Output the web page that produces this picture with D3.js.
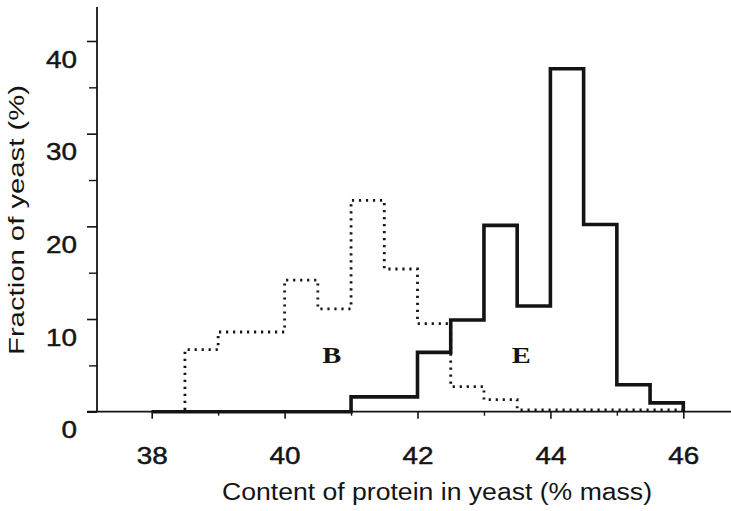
<!DOCTYPE html>
<html>
<head>
<meta charset="utf-8">
<script src="https://cdn.jsdelivr.net/npm/d3@7"></script>
<style>
  html, body { margin: 0; padding: 0; background: #fff; }
  svg { display: block; }
</style>
</head>
<body>
<svg id="chart" width="731" height="511"></svg>
<script>
// ---- data ----
const binStarts = [38, 38.5, 39, 39.5, 40, 40.5, 41, 41.5, 42, 42.5, 43, 43.5, 44, 44.5, 45, 45.5];
const binEnd = 46;
const seriesB = [0, 6.7, 8.6, 8.6, 14.2, 11.1, 22.8, 15.4, 9.5, 2.7, 1.3, 0.2, 0.2, 0.2, 0.2, 0.2];
const seriesE = [0, 0, 0, 0, 0, 0, 1.6, 1.6, 6.4, 9.9, 20.1, 11.4, 37.0, 20.2, 2.9, 0.95];
const xMajorTicks = [38, 40, 42, 44, 46];
const xMinorTicks = [39, 41, 43, 45];
const yMajorTicks = [0, 10, 20, 30, 40];
const yMinorTicks = [5, 15, 25, 35];
const seriesLabels = ["B", "E"];
const labelX = [40.71, 43.56];
const labelY = [5.25, 5.25];
const xTitle = "Content of protein in yeast (% mass)";
const yTitle = "Fraction of yeast (%)";

// ---- drawing ----
const svg = d3.select("#chart");
const ink = "#141414";
const sans = "'Liberation Sans', Arial, Helvetica, sans-serif";
const serif = "'Liberation Serif', 'Times New Roman', serif";

const x = d3.scaleLinear().domain([38, 46]).range([151.7, 683.3]);
const y = d3.scaleLinear().domain([0, 40]).range([411.7, 41]);

function stepPoints(vals) {
  const pts = binStarts.map((s, i) => [s, vals[i]]);
  pts.push([binEnd, vals[vals.length - 1]]);
  pts.push([binEnd, 0]);
  return pts;
}
const line = d3.line().x(d => x(d[0])).y(d => y(d[1])).curve(d3.curveStepAfter);

// axis lines
const axisX0 = 97;
svg.append("line")
  .attr("x1", 87).attr("x2", 731).attr("y1", y(0)).attr("y2", y(0))
  .attr("stroke", ink).attr("stroke-width", 1.8);
svg.append("line")
  .attr("x1", axisX0).attr("x2", axisX0).attr("y1", 7).attr("y2", y(0))
  .attr("stroke", ink).attr("stroke-width", 1.8);

// B dotted
svg.append("path")
  .attr("d", line(stepPoints(seriesB)))
  .attr("fill", "none")
  .attr("stroke", "#151515")
  .attr("stroke-width", 2.8)
  .attr("stroke-dasharray", "2.2,4.8")
  .attr("stroke-linecap", "butt");

// E solid
svg.append("path")
  .attr("d", line(stepPoints(seriesE)))
  .attr("fill", "none")
  .attr("stroke", ink)
  .attr("stroke-width", 3.6)
  .attr("stroke-linejoin", "miter");

function styleNum(sel) {
  sel.attr("fill", ink)
    .attr("stroke", ink).attr("stroke-width", 0.45)
    .style("font-family", sans).style("font-size", "23px")
    .attr("textLength", d => String(d).length * 15.5)
    .attr("lengthAdjust", "spacingAndGlyphs");
}

// x axis major
const gxM = svg.append("g")
  .attr("transform", `translate(0,${y(0)})`)
  .call(d3.axisBottom(x).tickValues(xMajorTicks).tickSize(7).tickPadding(29).tickFormat(d3.format("d")));
gxM.select(".domain").remove();
gxM.selectAll(".tick line").attr("stroke", ink).attr("stroke-width", 1.6);
styleNum(gxM.selectAll(".tick text"));

// x axis minor
const gxm = svg.append("g")
  .attr("transform", `translate(0,${y(0)})`)
  .call(d3.axisBottom(x).tickValues(xMinorTicks).tickSize(4).tickFormat(""));
gxm.select(".domain").remove();
gxm.selectAll(".tick line").attr("stroke", ink).attr("stroke-width", 1.4);

// y axis major
const gyM = svg.append("g")
  .attr("transform", `translate(${axisX0},0)`)
  .call(d3.axisLeft(y).tickValues(yMajorTicks).tickSize(10).tickPadding(10).tickFormat(d3.format("d")));
gyM.select(".domain").remove();
gyM.selectAll(".tick line").attr("stroke", ink).attr("stroke-width", 1.6);
styleNum(gyM.selectAll(".tick text").attr("dy", 26));

// y axis minor
const gym = svg.append("g")
  .attr("transform", `translate(${axisX0},0)`)
  .call(d3.axisLeft(y).tickValues(yMinorTicks).tickSize(8).tickFormat(""));
gym.select(".domain").remove();
gym.selectAll(".tick line").attr("stroke", ink).attr("stroke-width", 1.4);

// series labels
svg.selectAll(".serlab")
  .data(seriesLabels)
  .join("text")
  .attr("class", "serlab")
  .attr("x", (d, i) => x(labelX[i]))
  .attr("y", (d, i) => y(labelY[i]))
  .attr("text-anchor", "middle")
  .attr("fill", ink)
  .style("font-family", serif).style("font-weight", "bold").style("font-size", "23px")
  .attr("textLength", 19)
  .attr("lengthAdjust", "spacingAndGlyphs")
  .text(d => d);

// titles
svg.append("text")
  .attr("x", 437).attr("y", 500)
  .attr("text-anchor", "middle")
  .attr("fill", ink)
  .style("font-family", sans).style("font-size", "23px")
  .attr("textLength", 430).attr("lengthAdjust", "spacingAndGlyphs")
  .text(xTitle);

svg.append("text")
  .attr("transform", "translate(24,220) rotate(-90)")
  .attr("text-anchor", "middle")
  .attr("fill", ink)
  .style("font-family", sans).style("font-size", "22px")
  .attr("textLength", 270).attr("lengthAdjust", "spacingAndGlyphs")
  .text(yTitle);
</script>
</body>
</html>
